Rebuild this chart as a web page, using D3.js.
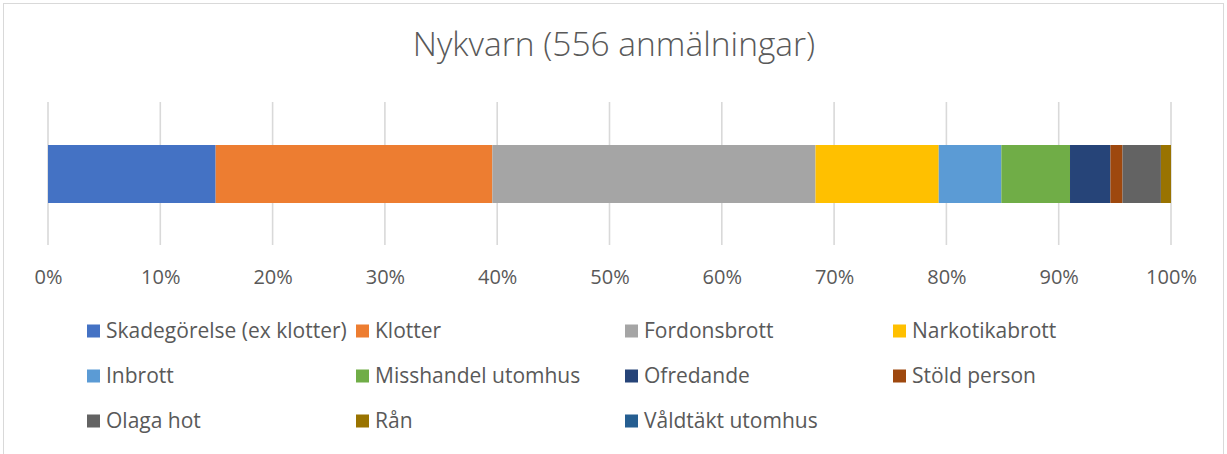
<!DOCTYPE html>
<html>
<head>
<meta charset="utf-8">
<script src="https://cdn.jsdelivr.net/npm/d3@7"></script>
<style>
  html, body { margin: 0; padding: 0; background: #fff; }
  svg { display: block; }
  text { font-family: "Open Sans", "Noto Sans", sans-serif; fill: #595959; }
</style>
</head>
<body>
<svg id="chart" width="1227" height="454"></svg>
<script>
// Anmälda brott i Nykvarn, antal per brottstyp (totalt 556)
const categories = [
  "Skadegörelse (ex klotter)", "Klotter", "Fordonsbrott", "Narkotikabrott",
  "Inbrott", "Misshandel utomhus", "Ofredande", "Stöld person",
  "Olaga hot", "Rån", "Våldtäkt utomhus"
];
const counts = [83, 137, 160, 61, 31, 34, 20, 6, 19, 5, 0];
const colors = [
  "#4472C4", "#ED7D31", "#A5A5A5", "#FFC000", "#5B9BD5", "#70AD47",
  "#264478", "#9E480E", "#636363", "#997300", "#255E91"
];
const tickValues = [0, 0.1, 0.2, 0.3, 0.4, 0.5, 0.6, 0.7, 0.8, 0.9, 1.0];
const title = "Nykvarn (556 anmälningar)";

const svg = d3.select("#chart");

// chart frame
svg.append("rect")
  .attr("x", 3.5).attr("y", 3.5)
  .attr("width", 1220).attr("height", 470)
  .attr("fill", "#fff").attr("stroke", "#d9d9d9").attr("stroke-width", 1);

// title
svg.append("text")
  .attr("x", 614).attr("y", 56)
  .attr("text-anchor", "middle")
  .style("font-size", "33.5px")
  .style("font-weight", 300)
  .text(title);

const total = d3.sum(counts);
const x = d3.scaleLinear().domain([0, 1]).range([48, 1171]);
const plotTop = 102, plotBottom = 245;

// vertical gridlines
svg.append("g")
  .selectAll("line")
  .data(tickValues)
  .join("line")
  .attr("x1", d => x(d)).attr("x2", d => x(d))
  .attr("y1", plotTop).attr("y2", plotBottom)
  .attr("stroke", "#d9d9d9").attr("stroke-width", 1.6);

// axis labels
const axis = d3.axisBottom(x).tickValues(tickValues).tickFormat(d3.format(".0%")).tickSize(0).tickPadding(0);
const gAxis = svg.append("g").attr("transform", "translate(0,266)").call(axis);
gAxis.select(".domain").remove();
gAxis.selectAll("text")
  .attr("dy", null).attr("y", 18)
  .style("font-size", "20px")
  .attr("fill", "#595959");

// stacked 100% bar
const stackData = [Object.fromEntries(categories.map((c, i) => [c, counts[i] / total]))];
const series = d3.stack().keys(categories)(stackData);
svg.append("g")
  .selectAll("rect")
  .data(series)
  .join("rect")
  .attr("x", s => x(s[0][0]))
  .attr("width", s => x(s[0][1]) - x(s[0][0]))
  .attr("y", 145)
  .attr("height", 58)
  .attr("fill", (s, i) => colors[i]);

// legend
const colX = [87, 356, 625, 893];
const rowY = [331, 376, 421];
const legend = svg.append("g")
  .selectAll("g")
  .data(categories)
  .join("g")
  .attr("transform", (d, i) => `translate(${colX[i % 4]},${rowY[Math.floor(i / 4)]})`);
legend.append("rect")
  .attr("x", 0).attr("y", -6.5)
  .attr("width", 13).attr("height", 13)
  .attr("fill", (d, i) => colors[i]);
legend.append("text")
  .attr("x", 19).attr("y", 7)
  .style("font-size", "21px")
  .text(d => d);
</script>
</body>
</html>
